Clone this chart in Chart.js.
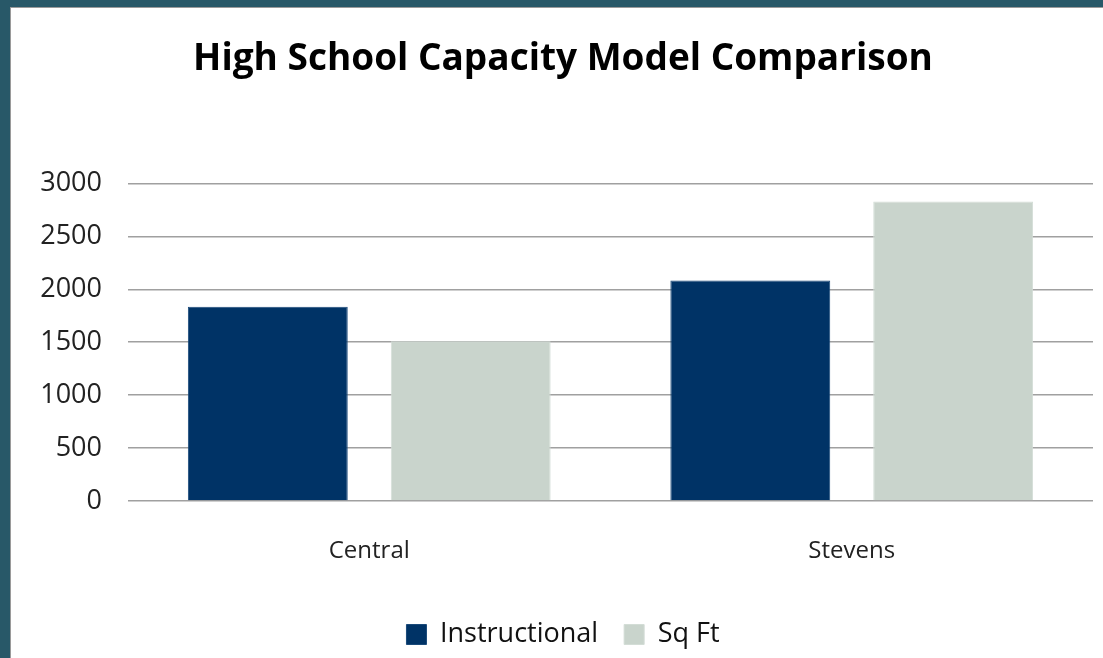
<!DOCTYPE html>
<html>
<head>
<meta charset="utf-8">
<script src="https://cdn.jsdelivr.net/npm/chart.js@4.4.1/dist/chart.umd.min.js"></script>
<style>
  html, body { margin: 0; padding: 0; }
  body { width: 1103px; height: 658px; background: #285868; position: relative; overflow: hidden; }
  #frame {
    position: absolute; left: 10px; top: 7px; width: 1093px; height: 651px;
    background: #fff; border-left: 1px solid #9a9a9a; border-top: 1px solid #9a9a9a;
  }
  #box { position: absolute; left: 0; top: 0; width: 1092px; height: 650px; }
</style>
</head>
<body>
<div id="frame"><div id="box"><canvas id="capacityChart"></canvas></div></div>
<script>
// Dados do gráfico
const escolas = ['Central', 'Stevens'];
const instrucional = [1834, 2083];
const areaSqFt = [1510, 2828];
const yTicks = [0, 500, 1000, 1500, 2000, 2500, 3000];

const ctx = document.getElementById('capacityChart').getContext('2d');
const capacityChart = new Chart(ctx, {
    type: 'bar',
    data: {
        labels: escolas,
        datasets: [{
            label: 'Instructional',
            data: instrucional,
            backgroundColor: '#003366',
            borderColor: '#1a4a7a',
            borderWidth: 1
        }, {
            label: 'Sq Ft',
            data: areaSqFt,
            backgroundColor: '#c9d4cc',
            borderColor: '#d3ddd6',
            borderWidth: 1
        }]
    },
    options: {
        responsive: true,
        maintainAspectRatio: false,
        animation: false,
        categoryPercentage: 0.841,
        barPercentage: 0.788,
        // padding à esquerda só para centrar o título como no original
        layout: { padding: { top: 0, right: 10, bottom: 0, left: 22 } },
        plugins: {
            title: {
                display: true,
                text: 'High School Capacity Model Comparison',
                color: '#000',
                font: { family: 'Open Sans', size: 37, weight: 'bold' },
                padding: { top: 29, bottom: 102 }
            },
            legend: {
                position: 'bottom',
                labels: {
                    color: '#111',
                    font: { family: 'Open Sans', size: 27 },
                    boxWidth: 20,
                    boxHeight: 20,
                    padding: 26
                }
            },
            tooltip: { enabled: false }
        },
        scales: {
            x: {
                grid: { display: false },
                border: { display: false },
                ticks: { color: '#222', font: { family: 'Open Sans', size: 24 }, padding: 28 },
                afterFit: s => { s.height = 94; }
            },
            y: {
                min: 0,
                max: 3000,
                afterBuildTicks: s => { s.ticks = yTicks.map(v => ({ value: v })); },
                grid: { color: '#a0a0a0', lineWidth: 1.5, drawTicks: false },
                border: { display: false },
                ticks: {
                    color: '#222',
                    font: { family: 'Open Sans', size: 27 },
                    padding: 26,
                    callback: v => String(v)
                },
                afterFit: s => { s.width = 95; }
            }
        }
    }
});
</script>
</body>
</html>
